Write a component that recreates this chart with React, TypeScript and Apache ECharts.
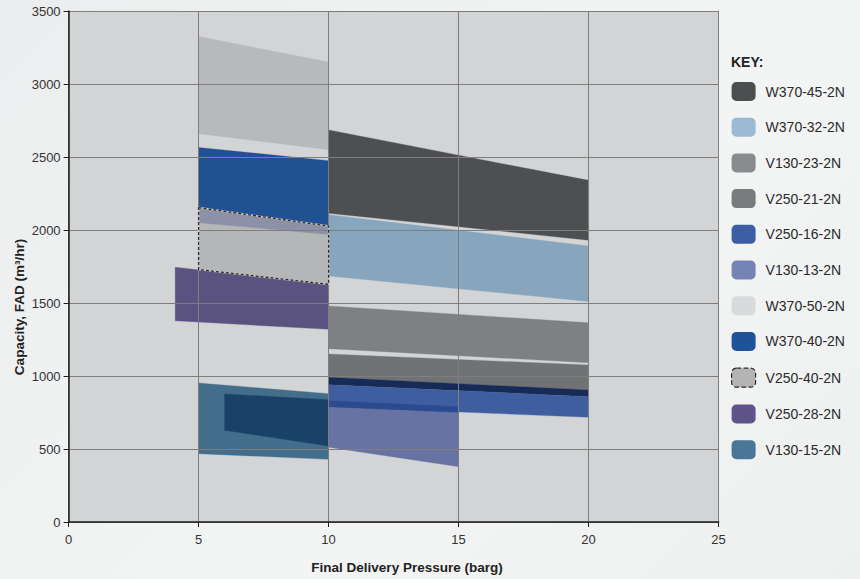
import React, { useEffect, useRef } from "react";
import * as echarts from "echarts";

// Band = [x0, x1, top at x0, top at x1, bottom at x0, bottom at x1]
const xTicks = [0, 5, 10, 15, 20, 25];
const yTicks = [0, 500, 1000, 1500, 2000, 2500, 3000, 3500];

const legendOrder = [
  "W370-45-2N", "W370-32-2N", "V130-23-2N", "V250-21-2N", "V250-16-2N",
  "V130-13-2N", "W370-50-2N", "W370-40-2N", "V250-40-2N", "V250-28-2N", "V130-15-2N",
];
const legendColors = [
  "#4d4e50", "#9bbad3", "#8a8b8e", "#7a7b7d", "#3d5ea4",
  "#7584b6", "#d9dadc", "#1f5398", "#b4b4b4", "#5e548a", "#4a7698",
];

const bandW370_50 = [5, 10, 3325, 3150, 2660, 2550];
const bandW370_40 = [5, 10, 2565, 2475, 2153, 2027];
const bandV250_40 = [5, 10, 2153, 2027, 1729, 1628];
const bandV250_40_overlap = [5, 10, 2153, 2027, 2050, 1970];
const bandV250_28 = [4.1, 10, 1745, 1628, 1378, 1320];
const bandV130_15 = [5, 10, 952, 879, 468, 429];
const bandV130_15_inner = [6, 10, 877, 838, 628, 520];
const bandW370_45 = [10, 20, 2685, 2340, 2115, 1930];
const bandW370_32 = [10, 20, 2105, 1890, 1685, 1510];
const bandV130_23 = [10, 20, 1480, 1365, 1187, 1091];
const bandV250_21 = [10, 20, 1151, 1075, 991, 904];
const bandV250_21_strip = [10, 20, 991, 904, 940, 858];
const bandV130_13 = [10, 15, 831, 790, 512, 379];
const bandV250_16 = [10, 20, 940, 858, 790, 717];
const bandV250_16_overlap = [10, 15, 831, 790, 790, 751];

type Layer = { band: number[]; color: string | null; outline?: "base" | "dash" };

const seriesDefs: { name: string; z: number; layers: Layer[] }[] = [
  { name: "W370-50-2N", z: 2, layers: [{ band: bandW370_50, color: "#b8b9bc" }] },
  { name: "W370-40-2N", z: 2, layers: [{ band: bandW370_40, color: "#1f5193" }] },
  {
    name: "V250-40-2N",
    z: 2,
    layers: [
      { band: bandV250_40, color: "#b5b6b7" },
      { band: bandV250_40_overlap, color: "#8d91a7" },
    ],
  },
  { name: "V250-28-2N", z: 2, layers: [{ band: bandV250_28, color: "#5a5380" }] },
  {
    name: "V130-15-2N",
    z: 2,
    layers: [
      { band: bandV130_15, color: "#436e8b" },
      { band: bandV130_15_inner, color: "#1c4168" },
    ],
  },
  { name: "W370-45-2N", z: 2, layers: [{ band: bandW370_45, color: "#4e4f51" }] },
  { name: "W370-32-2N", z: 2, layers: [{ band: bandW370_32, color: "#87a5bd" }] },
  { name: "V130-23-2N", z: 2, layers: [{ band: bandV130_23, color: "#7f8083" }] },
  {
    name: "V250-21-2N",
    z: 2,
    layers: [
      { band: bandV250_21, color: "#717274" },
      { band: bandV250_21_strip, color: "#172b57" },
    ],
  },
  { name: "V130-13-2N", z: 2, layers: [{ band: bandV130_13, color: "#6774a3" }] },
  {
    name: "V250-16-2N",
    z: 2,
    layers: [
      { band: bandV250_16, color: "#3f5e9f" },
      { band: bandV250_16_overlap, color: "#2b4a8f" },
    ],
  },
  {
    name: "V250-40-2N",
    z: 8,
    layers: [
      { band: bandV250_40, color: null, outline: "base" },
      { band: bandV250_40, color: null, outline: "dash" },
    ],
  },
];

const FONT = "'Liberation Sans', Arial, Helvetica, sans-serif";

export default function App() {
  const ref = useRef<HTMLDivElement>(null);
  useEffect(() => {
    if (!ref.current) return;
    const chart = echarts.init(ref.current, null, { renderer: "svg" });

    const series = seriesDefs.map((def) => ({
      type: "custom",
      name: def.name,
      z: def.z,
      coordinateSystem: "cartesian2d",
      data: def.layers.map((l, i) => [l.band[0], l.band[2], i]),
      itemStyle: { color: legendColors[legendOrder.indexOf(def.name)] },
      silent: true,
      renderItem: (params: any, api: any) => {
        const layer = def.layers[params.dataIndex];
        const b = layer.band;
        const pts = [
          api.coord([b[0], b[2]]),
          api.coord([b[1], b[3]]),
          api.coord([b[1], b[5]]),
          api.coord([b[0], b[4]]),
        ];
        if (layer.outline === "base") {
          return {
            type: "polygon",
            shape: { points: pts },
            style: { fill: "none", stroke: "#c9cacb", lineWidth: 1.6 },
          };
        }
        if (layer.outline === "dash") {
          return {
            type: "polygon",
            shape: { points: pts },
            style: { fill: "none", stroke: "#2a2a2a", lineWidth: 1.3, lineDash: [3, 2] },
          };
        }
        return {
          type: "polygon",
          shape: { points: pts },
          style: { fill: layer.color, stroke: layer.color, lineWidth: 0.3 },
        };
      },
    }));

    chart.setOption({
      animation: false,
      textStyle: { fontFamily: FONT },
      grid: {
        left: 68.6,
        right: 141.4,
        top: 11,
        bottom: 57,
        show: true,
        backgroundColor: "#d3d4d6",
        borderWidth: 0,
      },
      xAxis: {
        type: "value",
        min: xTicks[0],
        max: xTicks[xTicks.length - 1],
        interval: 5,
        z: 5,
        axisLine: { show: true, onZero: false, lineStyle: { color: "#1e1e1e", width: 1.5 } },
        axisTick: { show: true, length: 5, lineStyle: { color: "#1e1e1e" } },
        axisLabel: { color: "#333", fontSize: 13, margin: 11, fontFamily: FONT },
        splitLine: { show: true, lineStyle: { color: "#7e7e7e", width: 1 } },
      },
      yAxis: {
        type: "value",
        min: yTicks[0],
        max: yTicks[yTicks.length - 1],
        interval: 500,
        z: 5,
        axisLine: { show: true, onZero: false, lineStyle: { color: "#1e1e1e", width: 1.5 } },
        axisTick: { show: true, length: 5, lineStyle: { color: "#1e1e1e" } },
        axisLabel: {
          color: "#333",
          fontSize: 13,
          margin: 8,
          fontFamily: FONT,
          formatter: (v: number) => String(v),
        },
        splitLine: { show: true, lineStyle: { color: "#7e7e7e", width: 1 } },
      },
      legend: {
        orient: "vertical",
        left: 731,
        top: 82,
        padding: 0,
        itemWidth: 24,
        itemHeight: 19,
        itemGap: 16.7,
        icon: "roundRect",
        selectedMode: false,
        textStyle: { fontSize: 14, color: "#2b2b2b", fontFamily: FONT, padding: [0, 0, 0, 5] },
        data: legendOrder.map((name, i) =>
          name === "V250-40-2N"
            ? {
                name,
                itemStyle: {
                  color: legendColors[i],
                  borderColor: "#2a2a2a",
                  borderWidth: 1.2,
                  borderType: "dashed",
                },
              }
            : { name, itemStyle: { color: legendColors[i], borderWidth: 0 } }
        ),
      },
      graphic: [
        {
          type: "text",
          left: 731,
          top: 55,
          style: { text: "KEY:", fontSize: 14, fontWeight: "bold", fill: "#222", fontFamily: FONT },
        },
        {
          type: "text",
          x: 407,
          y: 567,
          style: {
            text: "Final Delivery Pressure (barg)",
            fontSize: 13.5,
            fontWeight: "bold",
            fill: "#222",
            fontFamily: FONT,
            align: "center",
            verticalAlign: "middle",
          },
        },
        {
          type: "text",
          x: 19,
          y: 307,
          rotation: Math.PI / 2,
          style: {
            text: "Capacity, FAD (m³/hr)",
            fontSize: 13.5,
            fontWeight: "bold",
            fill: "#222",
            fontFamily: FONT,
            align: "center",
            verticalAlign: "middle",
          },
        },
      ],
      series,
    });
    return () => chart.dispose();
  }, []);

  return (
    <div
      style={{
        position: "absolute",
        left: 0,
        top: 0,
        width: 860,
        height: 579,
        background: "linear-gradient(135deg, #ecedee 0%, #f3f4f4 60%, #eeefef 100%)",
      }}
    >
      <div ref={ref} style={{ width: 860, height: 579 }} />
    </div>
  );
}
